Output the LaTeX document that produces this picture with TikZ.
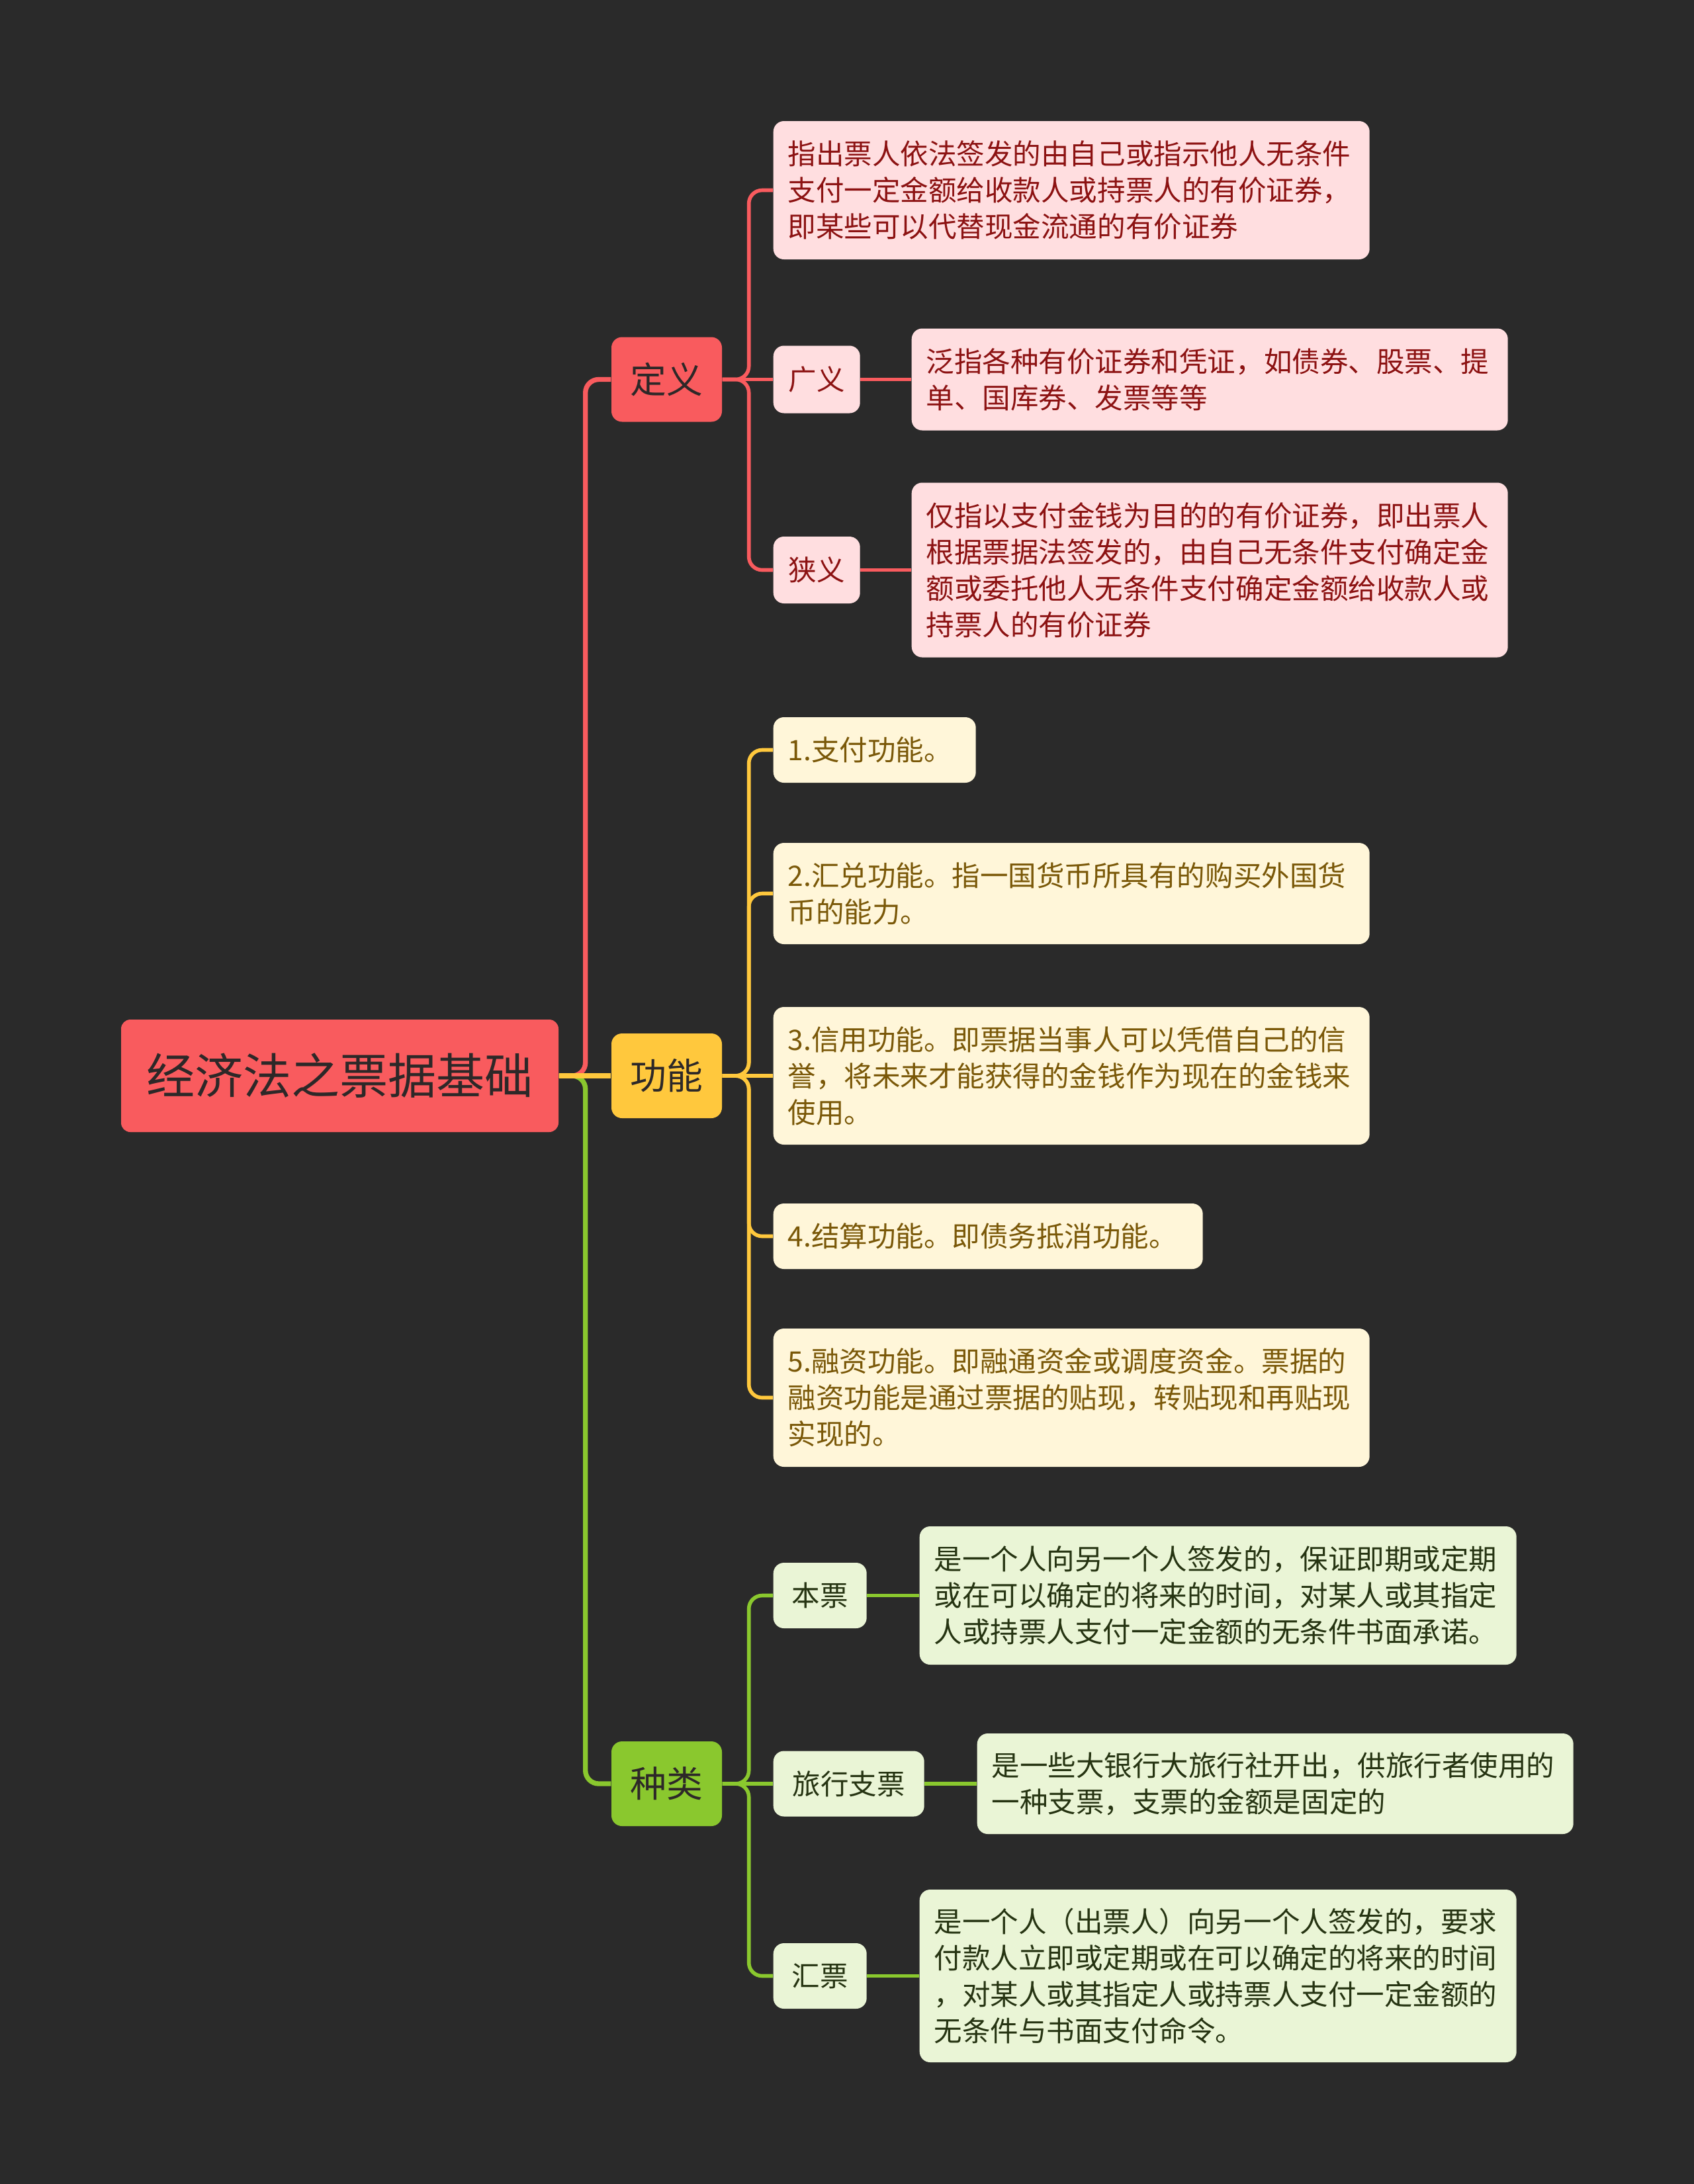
\documentclass[tikz,border=0pt]{standalone}
\usepackage{fontspec}
\setmainfont{Noto Sans CJK SC}
\usetikzlibrary{positioning}
\definecolor{bgdark}{RGB}{42,42,42}
\definecolor{rootred}{RGB}{249,91,94}
\definecolor{topicyellow}{RGB}{255,200,61}
\definecolor{topicgreen}{RGB}{138,200,46}
\definecolor{topicink}{RGB}{45,40,40}
\definecolor{pinkfill}{RGB}{255,222,224}
\definecolor{pinkink}{RGB}{140,18,18}
\definecolor{creamfill}{RGB}{255,246,217}
\definecolor{creamink}{RGB}{122,88,8}
\definecolor{mintfill}{RGB}{234,245,214}
\definecolor{mintink}{RGB}{38,52,18}

\begin{document}
\begin{tikzpicture}[y=-1cm,
        every node/.style={align=left, rounded corners=0.16cm, inner xsep=0.22cm, inner ysep=0pt},
        rootbox/.style={fill=rootred, text=topicink, align=center, minimum width=6.61cm, minimum height=1.7cm,
          rounded corners=0.14cm, font=\fontsize{20.8pt}{25pt}\selectfont},
        topic/.style={align=center, text=topicink, minimum width=1.67cm, minimum height=1.28cm,
          font=\fontsize{15.6pt}{19pt}\selectfont},
        leaf/.style={anchor=west, font=\fontsize{12.1pt}{15.65pt}\selectfont},
        label/.style={leaf, align=center, minimum height=0.99cm},
        redleaf/.style={leaf, fill=pinkfill, text=pinkink},
        yellowleaf/.style={leaf, fill=creamfill, text=creamink},
        greenleaf/.style={leaf, fill=mintfill, text=mintink},
        trunk/.style={line width=2.1pt, rounded corners=0.2cm},
        twig/.style={line width=1.6pt, rounded corners=0.2cm}
      ]
      \fill[bgdark] (0,0) rectangle (25.6,33.01);
      \useasboundingbox (0,0) rectangle (25.6,33.01);

      % root and main topics
      \node[rootbox] (root) at (5.135,16.26) {经济法之票据基础};
      \node[topic, fill=rootred] (dy) at (10.075,5.735) {定义};
      \node[topic, fill=topicyellow] (gn) at (10.075,16.26) {功能};
      \node[topic, fill=topicgreen] (zl) at (10.075,26.96) {种类};

      % 定义
      \node[redleaf, text width=8.57cm, minimum height=2.09cm] (dyA) at (11.68,2.875)
        {指出票人依法签发的由自己或指示他人无条件\\支付一定金额给收款人或持票人的有价证券，\\即某些可以代替现金流通的有价证券};
      \node[redleaf, label, minimum width=1.31cm, minimum height=1.02cm] (gy) at (11.68,5.735) {广义};
      \node[redleaf, text width=8.57cm, minimum height=1.54cm] (gyA) at (13.77,5.735)
        {泛指各种有价证券和凭证，如债券、股票、提\\单、国库券、发票等等};
      \node[redleaf, label, minimum width=1.31cm, minimum height=1.01cm] (xy) at (11.68,8.615) {狭义};
      \node[redleaf, text width=8.57cm, minimum height=2.64cm] (xyA) at (13.77,8.615)
        {仅指以支付金钱为目的的有价证券，即出票人\\根据票据法签发的，由自己无条件支付确定金\\额或委托他人无条件支付确定金额给收款人或\\持票人的有价证券};

      % 功能
      \node[yellowleaf, text width=2.62cm, minimum height=0.99cm] (gn1) at (11.68,11.335) {1.支付功能。};
      \node[yellowleaf, text width=8.57cm, minimum height=1.53cm] (gn2) at (11.68,13.505)
        {2.汇兑功能。指一国货币所具有的购买外国货\\币的能力。};
      \node[yellowleaf, text width=8.57cm, minimum height=2.08cm] (gn3) at (11.68,16.26)
        {3.信用功能。即票据当事人可以凭借自己的信\\誉，将未来才能获得的金钱作为现在的金钱来\\使用。};
      \node[yellowleaf, text width=6.05cm, minimum height=0.99cm] (gn4) at (11.68,18.685) {4.结算功能。即债务抵消功能。};
      \node[yellowleaf, text width=8.57cm, minimum height=2.09cm] (gn5) at (11.68,21.125)
        {5.融资功能。即融通资金或调度资金。票据的\\融资功能是通过票据的贴现，转贴现和再贴现\\实现的。};

      % 种类
      \node[greenleaf, label, minimum width=1.41cm] (bp) at (11.68,24.115) {本票};
      \node[greenleaf, text width=8.58cm, minimum height=2.09cm] (bpA) at (13.89,24.115)
        {是一个人向另一个人签发的，保证即期或定期\\或在可以确定的将来的时间，对某人或其指定\\人或持票人支付一定金额的无条件书面承诺。};
      \node[greenleaf, label, minimum width=2.28cm] (lx) at (11.68,26.96) {旅行支票};
      \node[greenleaf, text width=8.57cm, minimum height=1.52cm] (lxA) at (14.76,26.96)
        {是一些大银行大旅行社开出，供旅行者使用的\\一种支票，支票的金额是固定的};
      \node[greenleaf, label, minimum width=1.41cm] (hp) at (11.68,29.865) {汇票};
      \node[greenleaf, text width=8.58cm, minimum height=2.61cm] (hpA) at (13.89,29.865)
        {是一个人（出票人）向另一个人签发的，要求\\付款人立即或定期或在可以确定的将来的时间\\，对某人或其指定人或持票人支付一定金额的\\无条件与书面支付命令。};

      % trunk
      \draw[trunk, rootred] (root.east) -- ++(0.4,0) |- (dy.west);
      \draw[trunk, topicgreen] (root.east) -- ++(0.4,0) |- (zl.west);
      \draw[trunk, topicyellow] (root.east) -- (gn.west);

      % branches
      \foreach \kid in {dyA,xy}
        \draw[twig, rootred] (dy.east) -- ++(0.4,0) |- (\kid.west);
      \draw[twig, rootred] (dy.east) -- (gy.west);
      \draw[twig, rootred] (gy.east) -- (gyA.west);
      \draw[twig, rootred] (xy.east) -- (xyA.west);
      \foreach \kid in {gn1,gn2,gn4,gn5}
        \draw[twig, topicyellow] (gn.east) -- ++(0.4,0) |- (\kid.west);
      \draw[twig, topicyellow] (gn.east) -- (gn3.west);
      \foreach \kid in {bp,hp}
        \draw[twig, topicgreen] (zl.east) -- ++(0.4,0) |- (\kid.west);
      \draw[twig, topicgreen] (zl.east) -- (lx.west);
      \draw[twig, topicgreen] (bp.east) -- (bpA.west);
      \draw[twig, topicgreen] (lx.east) -- (lxA.west);
      \draw[twig, topicgreen] (hp.east) -- (hpA.west);
    \end{tikzpicture}
\end{document}
